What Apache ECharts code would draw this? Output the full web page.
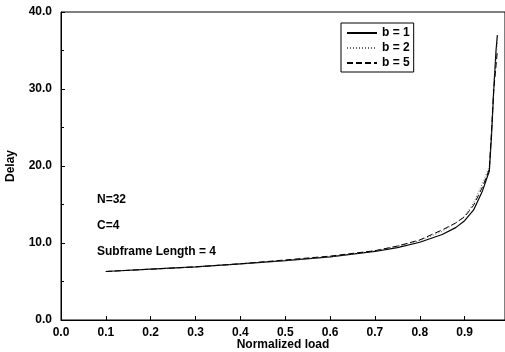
<!DOCTYPE html>
<html>
<head>
<meta charset="utf-8">
<script src="https://cdn.jsdelivr.net/npm/echarts@6/dist/echarts.min.js"></script>
<style>
  html, body { margin: 0; padding: 0; background: #fff; }
  #chart { width: 505px; height: 352px; }
</style>
</head>
<body>
<div id="chart"></div>
<script>
// 数据
var loads = [0.1, 0.2, 0.3, 0.4, 0.5, 0.6, 0.7, 0.75, 0.8, 0.85, 0.88, 0.9, 0.92, 0.94, 0.95, 0.955, 0.96, 0.965, 0.97, 0.973];
var delayB1 = [6.3, 6.6, 6.9, 7.3, 7.7, 8.2, 8.9, 9.4, 10.1, 11.1, 12.0, 12.9, 14.3, 16.8, 18.5, 19.3, 24, 30, 35, 37];
var delayB2 = [6.3, 6.6, 6.9, 7.3, 7.7, 8.2, 9.0, 9.6, 10.3, 11.5, 12.6, 13.5, 15.2, 17.8, 19.2, 20.0, 25, 31, 34, 36];
var delayB5 = [6.3, 6.6, 6.9, 7.3, 7.8, 8.3, 9.0, 9.6, 10.4, 11.7, 12.6, 13.4, 14.9, 17.3, 18.8, 19.6, 24.5, 30, 33, 35];
var seriesNames = ['b = 1', 'b = 2', 'b = 5'];
var notes = ['N=32', 'C=4', 'Subframe Length = 4'];

var font = 'Liberation Sans, Arial, sans-serif';

function pairs(ys) {
  return loads.map(function (x, i) { return [x, ys[i]]; });
}

var chart = echarts.init(document.getElementById('chart'));
var lineStyles = [
  { color: '#000', width: 1.2, type: 'solid' },
  { color: '#666', width: 1, type: [1, 2] },
  { color: '#000', width: 1, type: [6, 3] }
];
var allData = [delayB1, delayB2, delayB5];

var option = {
  animation: false,
  backgroundColor: '#fff',
  grid: {
    left: 61, right: 0, top: 12, bottom: 32,
    containLabel: false, outerBoundsMode: 'none',
    show: true, borderColor: '#000', borderWidth: 1
  },
  legend: {
    orient: 'vertical',
    left: 341, top: 23,
    padding: [4, 4, 3, 5],
    borderColor: '#000', borderWidth: 1,
    itemWidth: 30, itemHeight: 10, itemGap: 3,
    itemStyle: { opacity: 0 },
    textStyle: { fontFamily: font, fontWeight: 'bold', fontSize: 12, color: '#000', width: 40 },
    data: seriesNames
  },
  xAxis: {
    type: 'value',
    min: 0, max: 0.99, interval: 0.1,
    name: 'Normalized load',
    nameLocation: 'middle', nameGap: 19, nameMoveOverlap: false,
    nameTextStyle: { fontFamily: font, fontWeight: 'bold', fontSize: 12, color: '#000' },
    axisLine: { lineStyle: { color: '#000', width: 1 } },
    axisTick: { inside: true, length: 4, lineStyle: { color: '#000' } },
    splitLine: { show: false },
    axisLabel: {
      showMaxLabel: false, margin: 7,
      fontFamily: font, fontWeight: 'bold', fontSize: 12, color: '#000',
      formatter: function (v) { return v.toFixed(1); }
    }
  },
  yAxis: {
    type: 'value',
    min: 0, max: 40, interval: 10,
    name: 'Delay',
    nameLocation: 'middle', nameGap: 44, nameMoveOverlap: false,
    nameTextStyle: { fontFamily: font, fontWeight: 'bold', fontSize: 12, color: '#000' },
    axisLine: { lineStyle: { color: '#000', width: 1 } },
    axisTick: { inside: true, length: 4, lineStyle: { color: '#000' } },
    minorTick: { show: true, splitNumber: 2, length: 3, lineStyle: { color: '#000' } },
    splitLine: { show: false },
    axisLabel: {
      margin: 9,
      fontFamily: font, fontWeight: 'bold', fontSize: 12, color: '#000',
      formatter: function (v) { return v.toFixed(1); }
    }
  },
  graphic: notes.map(function (t, i) {
    return {
      type: 'text', left: 97, top: 194 + i * 26,
      style: { text: t, fontFamily: font, fontWeight: 'bold', fontSize: 12, fill: '#000' }
    };
  }),
  series: seriesNames.map(function (name, i) {
    return {
      name: name,
      type: 'line',
      symbol: 'none',
      lineStyle: lineStyles[i],
      itemStyle: { color: lineStyles[i].color },
      data: pairs(allData[i])
    };
  })
};
chart.setOption(option, true);
</script>
</body>
</html>
